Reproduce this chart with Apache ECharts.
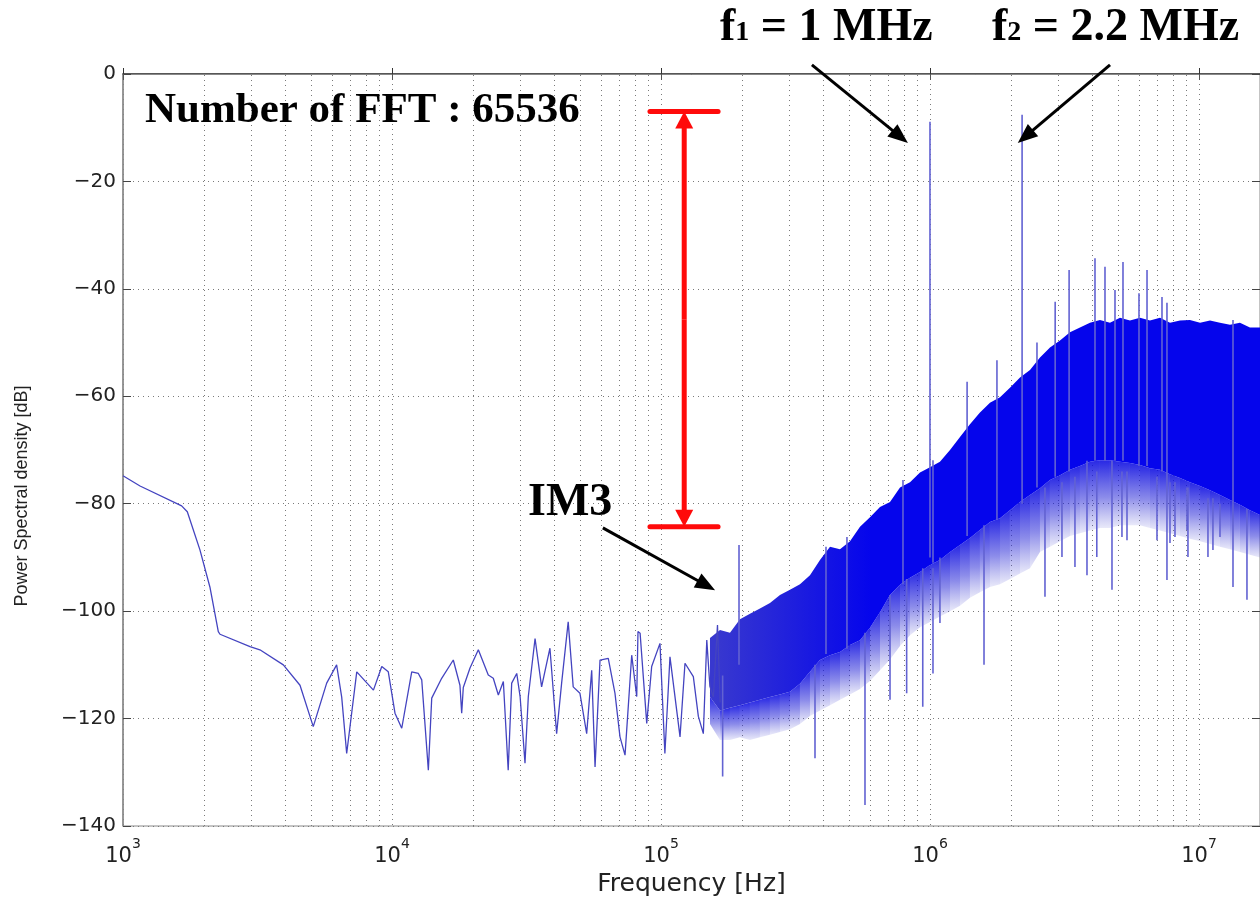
<!DOCTYPE html>
<html><head><meta charset="utf-8">
<script src="https://cdn.jsdelivr.net/npm/echarts@6/dist/echarts.min.js"></script>
<style>html,body{margin:0;padding:0;background:#fff}#c{width:1260px;height:898px}</style>
</head><body><div id="c"></div>
<script>
// ---------- data ----------
const xMin = 1000, xMax = 1.686e7;
const yMin = -140, yMax = 0, yStep = 20;

// sparse low-frequency part of the spectrum
const lowFreq = [1000,1157,1652,1734,1932,2104,2261,2294,2966,3228,3945,4550,5097,5717,6225,6502,6785,7396,8531,9162,9688,10260,10870,11840,12530,12900,13650,14050,15300,16900,17890,18160,18410,19500,20940,22800,23800,24850,25940,27040,27860,29090,29940,31220,32120,34030,35990,38650,40930,42720,45190,47170,49970,52930,55260,56870,59340,63680,67450,70400,73500,77830,81250,82130,83620,88520,92340,99140,103400,108000,117700,122800,131900,137700,143700,148000,152000,156600,162200,166000];
const lowDb = [-74.8,-76.7,-80.4,-81.5,-88.6,-95.5,-103.8,-104.3,-106.6,-107.2,-110.0,-113.8,-121.5,-113.4,-110.0,-116.0,-126.5,-111.3,-114.7,-110.3,-111.3,-119.0,-121.8,-111.3,-111.6,-112.8,-129.6,-116.2,-112.5,-109.1,-113.8,-119.0,-114.2,-110.6,-107.2,-111.9,-112.5,-115.6,-113.1,-129.6,-113.4,-111.6,-115.9,-128.3,-115.9,-105.1,-114.1,-106.9,-122.8,-113.4,-102.0,-114.1,-115.3,-122.8,-111.0,-129.0,-109.1,-108.8,-115.3,-123.4,-126.8,-108.2,-115.9,-103.8,-104.1,-120.9,-110.3,-106.0,-126.5,-108.5,-123.4,-109.7,-112.2,-119.6,-122.8,-105.4,-114.0,-116.0,-102.6,-117.0];

// dense high-frequency part: envelopes of the solid band and of its lighter lower fringe
const bandFreq = [1.521e5,1.657e5,1.805e5,1.966e5,2.142e5,2.333e5,2.542e5,2.769e5,3.017e5,3.286e5,3.580e5,3.900e5,4.249e5,4.629e5,5.043e5,5.493e5,5.984e5,6.519e5,7.102e5,7.737e5,8.428e5,9.181e5,1.000e6,1.089e6,1.187e6,1.293e6,1.408e6,1.534e6,1.671e6,1.821e6,1.983e6,2.161e6,2.354e6,2.564e6,2.793e6,3.043e6,3.315e6,3.611e6,3.934e6,4.285e6,4.668e6,5.086e6,5.540e6,6.035e6,6.575e6,7.162e6,7.802e6,8.500e6,9.259e6,1.009e7,1.099e7,1.197e7,1.304e7,1.420e7,1.547e7,1.686e7];
const bandTop = [-105.0,-103.5,-104.0,-101.5,-100.5,-99.5,-98.5,-97.0,-96.0,-95.0,-93.3,-90.5,-88.0,-88.5,-87.0,-84.3,-82.5,-80.6,-79.7,-77.0,-76.0,-74.2,-73.2,-72.2,-70.0,-67.6,-65.2,-63.0,-61.2,-60.2,-58.4,-56.5,-55.1,-52.8,-50.9,-49.6,-48.1,-47.2,-46.3,-45.8,-46.3,-45.4,-45.9,-45.4,-45.9,-45.4,-46.3,-45.9,-45.8,-46.3,-45.9,-46.3,-46.7,-46.3,-47.2,-47.2];
const bandBottom = [-116.0,-118.5,-118.0,-117.5,-117.0,-116.5,-116.0,-115.5,-115.0,-113.5,-111.3,-109.1,-108.2,-107.6,-106.3,-105.4,-103.1,-100.2,-97.0,-95.1,-93.8,-92.7,-91.4,-90.5,-89.0,-87.7,-86.4,-84.9,-83.4,-82.7,-81.2,-79.7,-78.4,-77.1,-75.6,-74.7,-73.7,-73.0,-72.2,-71.9,-71.9,-72.2,-72.4,-72.8,-73.4,-73.7,-74.5,-75.2,-76.0,-76.7,-77.5,-78.4,-79.3,-80.2,-81.2,-82.1];
const fringeBottom = [-121.0,-124.0,-124.0,-123.5,-124.0,-123.5,-123.0,-122.5,-122.0,-121.0,-119.5,-118.5,-117.5,-116.5,-115.5,-114.5,-113.0,-111.0,-109.0,-106.5,-104.5,-103.0,-102.0,-101.0,-100.0,-99.0,-97.5,-96.5,-95.5,-95.0,-94.0,-93.0,-92.0,-89.0,-88.0,-87.0,-86.0,-85.5,-85.0,-84.5,-84.5,-84.0,-84.0,-84.0,-84.5,-85.0,-85.5,-86.0,-86.5,-87.0,-87.5,-88.0,-88.5,-89.0,-89.5,-90.0];

// isolated spectral lines (tones, IM3 and noise spikes)
const spikeFreq = [1.95e5,1.0e6,2.2e6,1.374e6,1.774e6,2.499e6,2.92e6,3.29e6,4.106e6,4.473e6,4.873e6,5.218e6,5.984e6,6.41e6,7.286e6,7.603e6,1.338e7,4.106e5,4.913e5,7.936e5,1.026e6,
                   1.695e5,3.737e5,5.733e5,7.102e5,8.19e5,9.40e5,1.089e6,1.588e6,2.676e6,3.834e6,4.749e6,7.603e6,1.338e7,1.508e7,
                   3.095e6,4.17e6,5.172e6,5.4e6,6.981e6,7.802e6,8.143e6,9.025e6,9.1e6,1.080e7,1.127e7,1.197e7,3.459e6,1.026e6];
const spikeBase = [-110,-90,-80,-86,-83,-77,-75,-74,-72,-72,-72,-72,-73,-73,-74,-74,-79,-108,-107,-95,-91,
                   -112,-110,-104,-97,-94,-92,-90,-84,-77,-72,-72,-74,-79,-81,
                   -76,-74,-74,-74,-75,-76,-76,-77,-77,-79,-79,-80,-75,-92];
const spikeTip = [-87.7,-8.9,-7.6,-57.3,-53.3,-50.0,-42.4,-36.5,-34.3,-35.9,-40.2,-35.0,-40.8,-36.5,-41.5,-42.6,-45.8,-88.0,-86.2,-75.6,-71.9,
                  -130.8,-127.4,-136.1,-116.5,-115.3,-117.8,-102.2,-110.0,-97.3,-93.3,-96.0,-94.2,-95.5,-97.9,
                  -89.9,-89.9,-86.2,-86.8,-86.8,-87.3,-86.2,-84.9,-89.9,-89.9,-88.6,-86.2,-91.8,-111.6];

// annotation anchors (data coordinates: Hz, dB)
const f1Arrow = [[3.64e5, 1.7], [8.28e5, -12.85]];
const f2Arrow = [[4.67e6, 1.7], [2.12e6, -12.85]];
const im3Arrow = [[6.08e4, -84.5], [1.589e5, -96.1]];
const rangeFreq = 1.22e5, rangeTop = -7.0, rangeBottom = -84.3;
const rangeBar = [9.1e4, 1.63e5];

// ---------- build ----------
const minorGrid = [];
for (let e = 3; e <= 7; e++) for (let m = 2; m <= 9; m++) { const v = m * Math.pow(10, e); if (v < xMax) minorGrid.push(v); }

const lowData = lowFreq.map((f, i) => [f, lowDb[i]]);
const spikeData = [];
spikeFreq.forEach((f, i) => { spikeData.push([f, spikeBase[i]], [f, spikeTip[i]], [f, '-']); });

// solid band between two envelopes, drawn as one polygon through the axis scales
function bandSeries(lo, hi, fillFn, z) {
  return {
    type: 'custom', silent: true, z: z, clip: true,
    encode: { x: 0, y: [1, 2] },
    data: bandFreq.map((f, i) => [f, lo[i], hi[i]]),
    renderItem: function (params, api) {
      if (params.dataIndex !== 0) return null;
      const pts = [];
      for (let i = 0; i < bandFreq.length; i++) pts.push(api.coord([bandFreq[i], hi[i]]));
      for (let i = bandFreq.length - 1; i >= 0; i--) pts.push(api.coord([bandFreq[i], lo[i]]));
      return { type: 'polygon', shape: { points: pts }, style: { fill: fillFn(api), stroke: null } };
    }
  };
}
// lower fringe: one quad per segment, fading downward
function fringeSeries(lo, hi, z) {
  const segs = [];
  for (let i = 0; i < bandFreq.length - 1; i++) segs.push([bandFreq[i], lo[i], hi[i], bandFreq[i + 1], lo[i + 1], hi[i + 1]]);
  return {
    type: 'custom', silent: true, z: z, clip: true,
    encode: { x: [0, 3], y: [1, 2, 4, 5] },
    data: segs,
    renderItem: function (params, api) {
      const a = api.coord([api.value(0), api.value(2)]), b = api.coord([api.value(3), api.value(5)]);
      const c = api.coord([api.value(3), api.value(4)]), d = api.coord([api.value(0), api.value(1)]);
      return { type: 'polygon', shape: { points: [a, b, c, d] },
        style: { stroke: null, fill: new echarts.graphic.LinearGradient(0, 0, 0, 1, [
          { offset: 0, color: 'rgba(10,10,225,0.88)' }, { offset: 0.55, color: 'rgba(35,35,215,0.52)' }, { offset: 1, color: 'rgba(70,70,210,0.12)' }]) } };
    }
  };
}

const gridDots = { color: '#7a7a7a', width: 1, type: [1, 4] };
const tickFont = 'DejaVu Sans';

const option = {
  animation: false,
  backgroundColor: '#ffffff',
  grid: { left: 123, right: 0, top: 74, bottom: 72, show: true, borderColor: '#888', borderWidth: 1,
          containLabel: false, outerBoundsMode: 'none' },
  xAxis: [{
    type: 'log', logBase: 10, min: xMin, max: xMax,
    axisLine: { lineStyle: { color: '#333', width: 1.5 } },
    axisTick: { inside: true, length: 6, lineStyle: { color: '#333' } },
    axisLabel: {
      margin: 11, color: '#222',
      formatter: function (v) {
        const l = Math.log10(v), e = Math.round(l);
        if (Math.abs(l - e) > 1e-6) return '';
        return '{b|10}{e|' + e + '}';
      },
      rich: {
        b: { fontFamily: tickFont, fontSize: 21, color: '#222', padding: [9, 0, 0, 0] },
        e: { fontFamily: tickFont, fontSize: 14, color: '#222', verticalAlign: 'top' }
      }
    },
    splitLine: { show: true, lineStyle: gridDots },
    name: 'Frequency [Hz]', nameLocation: 'middle', nameGap: 45,
    nameTextStyle: { fontFamily: tickFont, fontSize: 25, color: '#222' }
  }, {
    type: 'log', logBase: 10, min: xMin, max: xMax, position: 'top',
    axisLine: { lineStyle: { color: '#888' } },
    axisTick: { inside: true, length: 6, lineStyle: { color: '#555' } },
    axisLabel: { show: false }, splitLine: { show: false }
  }],
  yAxis: [{
    type: 'value', min: yMin, max: yMax, interval: yStep,
    axisLine: { show: true, lineStyle: { color: '#888', width: 1.5 } },
    axisTick: { inside: true, length: 8, lineStyle: { color: '#444' } },
    axisLabel: {
      margin: 7, fontFamily: tickFont, fontSize: 20, color: '#222',
      formatter: v => v === 0 ? '0' : '\u2212' + Math.abs(v)
    },
    splitLine: { show: true, lineStyle: gridDots }
  }, {
    type: 'value', min: yMin, max: yMax, interval: yStep, position: 'right',
    axisLine: { show: true, lineStyle: { color: '#888' } },
    axisTick: { inside: true, length: 8, lineStyle: { color: '#444' } },
    axisLabel: { show: false }, splitLine: { show: false }
  }],
  series: [
    { type: 'line', data: [], silent: true, z: 1,
      markLine: { silent: true, symbol: 'none', z: 1, animation: false, label: { show: false },
        emphasis: { disabled: true }, lineStyle: gridDots,
        data: minorGrid.map(v => ({ xAxis: v })) } },
    fringeSeries(fringeBottom, bandBottom, 3),
    bandSeries(bandBottom, bandTop, function (api) {
      const x0 = api.coord([1.6e5, 0])[0], x1 = api.coord([6e5, 0])[0];
      return new echarts.graphic.LinearGradient(x0, 0, x1, 0, [
        { offset: 0, color: '#3838cf' }, { offset: 1, color: '#0505ec' }], true);
    }, 3),
    { type: 'line', name: 'low', data: lowData, symbol: 'none', silent: true, z: 4,
      lineStyle: { color: '#4444c0', width: 1.3 } },
    { type: 'line', name: 'spikes', data: spikeData, symbol: 'none', silent: true, z: 5, connectNulls: false,
      lineStyle: { color: '#6262d2', width: 1.6 } }
  ]
};

const chart = echarts.init(document.getElementById('c'));
chart.setOption(option);

const px = p => chart.convertToPixel({ xAxisIndex: 0, yAxisIndex: 0 }, p);
function arrow(a, b, color, lw, L, W) {
  const p0 = px(a), p1 = px(b);
  const dx = p1[0] - p0[0], dy = p1[1] - p0[1], d = Math.hypot(dx, dy);
  const ux = dx / d, uy = dy / d, nx = -uy, ny = ux;
  const bx = p1[0] - ux * L, by = p1[1] - uy * L;
  return [
    { type: 'line', silent: true, z: 100, shape: { x1: p0[0], y1: p0[1], x2: bx + ux * 2, y2: by + uy * 2 }, style: { stroke: color, lineWidth: lw } },
    { type: 'polygon', silent: true, z: 100, shape: { points: [[p1[0], p1[1]], [bx + nx * W, by + ny * W], [bx - nx * W, by - ny * W]] }, style: { fill: color } }
  ];
}
const serif = 'Liberation Serif';
const red = '#ff0a0a';
let g = [];
g = g.concat(arrow(f1Arrow[0], f1Arrow[1], '#000', 3, 20, 8));
g = g.concat(arrow(f2Arrow[0], f2Arrow[1], '#000', 3, 20, 8));
g = g.concat(arrow(im3Arrow[0], im3Arrow[1], '#000', 3, 20, 8));
// red dynamic-range marker
const rMid = [rangeFreq, (rangeTop + rangeBottom) / 2];
g = g.concat(arrow(rMid, [rangeFreq, rangeTop], red, 5, 17, 9));
g = g.concat(arrow(rMid, [rangeFreq, rangeBottom], red, 5, 17, 9));
[rangeTop, rangeBottom].forEach(v => {
  const a = px([rangeBar[0], v]), b = px([rangeBar[1], v]);
  g.push({ type: 'line', silent: true, z: 100, shape: { x1: a[0], y1: a[1], x2: b[0], y2: b[1] }, style: { stroke: red, lineWidth: 5, lineCap: 'round' } });
});
// texts
g.push({ type: 'text', silent: true, z: 110, x: 145, y: 111,
  style: { text: 'Number of FFT : 65536', fontFamily: serif, fontWeight: 'bold', fontSize: 43, fill: '#000', verticalAlign: 'middle' } });
const subRich = {
  m: { fontFamily: serif, fontWeight: 'bold', fontSize: 46, fill: '#000', color: '#000' },
  s: { fontFamily: serif, fontWeight: 'bold', fontSize: 28, fill: '#000', color: '#000', verticalAlign: 'bottom', padding: [0, 0, 4, 0] }
};
g.push({ type: 'text', silent: true, z: 110, x: 720, y: 28,
  style: { text: '{m|f}{s|1}{m| = 1 MHz}', rich: subRich, verticalAlign: 'middle' } });
g.push({ type: 'text', silent: true, z: 110, x: 992, y: 28,
  style: { text: '{m|f}{s|2}{m| = 2.2 MHz}', rich: subRich, verticalAlign: 'middle' } });
g.push({ type: 'text', silent: true, z: 110, x: 528, y: 503,
  style: { text: 'IM3', fontFamily: serif, fontWeight: 'bold', fontSize: 46, fill: '#000', verticalAlign: 'middle' } });
// y axis title
g.push({ type: 'text', silent: true, z: 110, x: 22, y: 496, rotation: Math.PI / 2,
  style: { text: 'Power Spectral density [dB]', fontFamily: 'Liberation Sans', fontSize: 18, fill: '#222', align: 'center', verticalAlign: 'middle' } });

chart.setOption({ graphic: g });
</script></body></html>
